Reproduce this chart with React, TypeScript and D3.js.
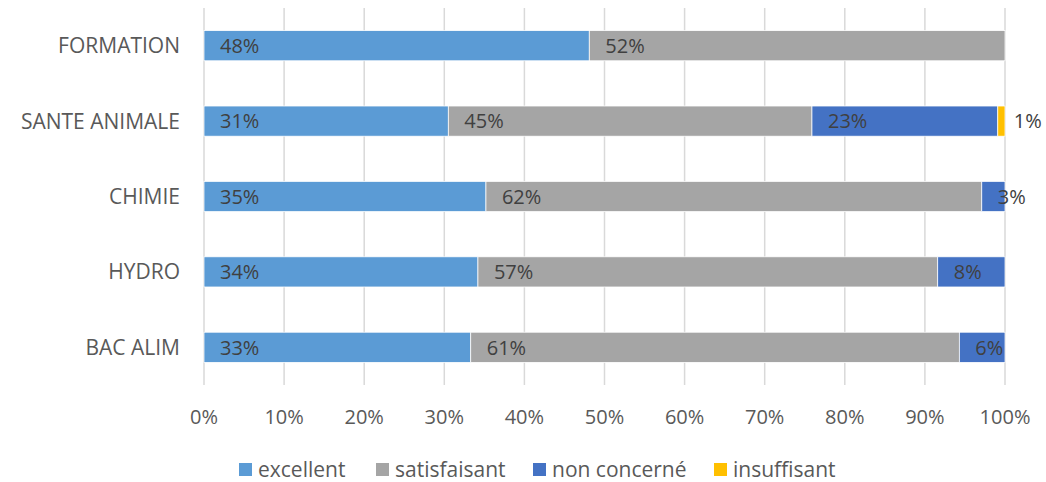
import React from "react";
import * as d3 from "d3";

const categories = ["FORMATION", "SANTE ANIMALE", "CHIMIE", "HYDRO", "BAC ALIM"];
const seriesNames = ["excellent", "satisfaisant", "non concerné", "insuffisant"];
const excellent = [48.1, 30.5, 35.2, 34.2, 33.3];
const satisfaisant = [51.9, 45.4, 61.9, 57.4, 61.0];
const nonConcerne = [0, 23.2, 2.9, 8.4, 5.7];
const insuffisant = [0, 0.9, 0, 0, 0];
const xTicks = [0, 10, 20, 30, 40, 50, 60, 70, 80, 90, 100];
const colors = ["#5B9BD5", "#A5A5A5", "#4472C4", "#FFC000"];

const W = 1046;
const H = 482;
const FONT = "'Open Sans', 'Liberation Sans', Arial, sans-serif";

export default function App() {
  const series = [excellent, satisfaisant, nonConcerne, insuffisant];
  const rows = categories.map((c, i) => {
    const r: any = { cat: c };
    seriesNames.forEach((s, k) => (r[s] = series[k][i]));
    return r;
  });
  const stacked = d3.stack<any>().keys(seriesNames)(rows);

  const x = d3.scaleLinear().domain([0, 100]).range([204, 1005]);
  const y = d3.scaleBand<string>().domain(categories).range([8, 385]).paddingInner(0.6).paddingOuter(0.3);

  const legendX = [239, 376, 533, 714];

  return (
    <svg width={W} height={H} style={{ position: "absolute", left: 0, top: 0, background: "#fff" }} fontFamily={FONT}>
      {xTicks.map((t) => (
        <line key={"g" + t} x1={x(t)} x2={x(t)} y1={8} y2={385} stroke="#D9D9D9" strokeWidth={1.5} />
      ))}
      {stacked.map((layer, k) =>
        layer.map((d, i) => {
          const v = d[1] - d[0];
          if (v <= 0) return null;
          return (
            <rect
              key={k + "-" + i}
              x={x(d[0])}
              y={y(categories[i])!}
              width={x(d[1]) - x(d[0])}
              height={y.bandwidth()}
              fill={colors[k]}
              stroke="#fff"
              strokeWidth={0.75}
            />
          );
        })
      )}
      {stacked.map((layer, k) =>
        layer.map((d, i) => {
          const v = d[1] - d[0];
          if (v <= 0) return null;
          return (
            <text
              key={"l" + k + "-" + i}
              x={x(d[0]) + 16}
              y={y(categories[i])! + y.bandwidth() / 2}
              dy="0.36em"
              fontSize={20}
              fill="#404040"
            >
              {Math.round(v) + "%"}
            </text>
          );
        })
      )}
      {categories.map((c) => (
        <text key={c} x={180} y={y(c)! + y.bandwidth() / 2} dy="0.36em" textAnchor="end" fontSize={21} fill="#595959">
          {c}
        </text>
      ))}
      {xTicks.map((t) => (
        <text key={"t" + t} x={x(t)} y={424} textAnchor="middle" fontSize={20} fill="#595959">
          {t + "%"}
        </text>
      ))}
      {seriesNames.map((s, k) => (
        <g key={"lg" + s}>
          <rect x={legendX[k]} y={463} width={13} height={13} fill={colors[k]} />
          <text x={legendX[k] + 19} y={477} fontSize={21} fill="#595959">
            {s}
          </text>
        </g>
      ))}
    </svg>
  );
}
